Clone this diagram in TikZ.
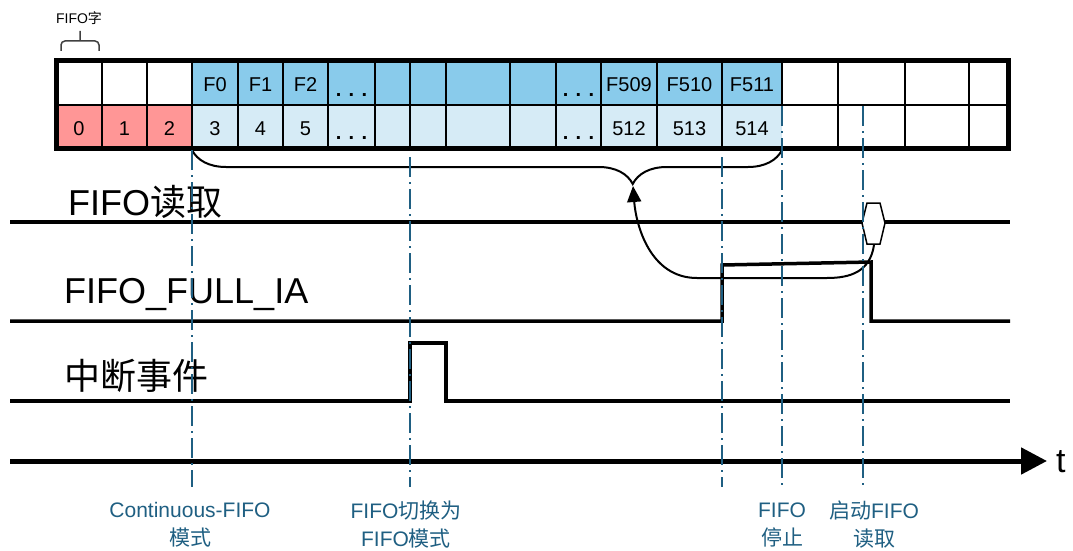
\documentclass[tikz,border=0pt]{standalone}
\usepackage{fontspec}
\setmainfont{Liberation Sans}
\newfontfamily\cjk{Noto Sans CJK SC}
\usetikzlibrary{decorations.pathreplacing,arrows.meta}

\definecolor{oLam}{RGB}{137,203,235}
\definecolor{oNhat}{RGB}{214,235,246}
\definecolor{oHong}{RGB}{255,150,150}
\definecolor{xanhMoc}{RGB}{31,95,130}

\tikzset{
	moc/.style={xanhMoc, line width=2.5pt, dash pattern=on 20pt off 5pt on 2pt off 5pt},
	tinhieu/.style={line width=3.5pt, line join=miter},
	chuO/.style={anchor=base, inner sep=0pt, font=\fontsize{20}{20}\selectfont},
	nhanTH/.style={anchor=base west, inner sep=0pt, font=\fontsize{36}{40}\selectfont},
	nhanMoc/.style={xanhMoc, align=center, inner sep=0pt, font=\fontsize{21}{28}\selectfont}
}

\begin{document}
\begin{tikzpicture}[x=1pt, y=-1pt, line cap=butt]
	\useasboundingbox (0,0) rectangle (1073,551);
	
	% --- Tô màu các ô FIFO ---
	% 0,1,2 - Hồng
	\fill[oHong] (56,105) rectangle (192,148);
	% F0 ... F511 - Xanh đậm
	\fill[oLam] (192,61) rectangle (782,105);
	% 3 ... 514 - Xanh nhạt
	\fill[oNhat] (192,105) rectangle (782,148);
	
	% --- Vẽ lưới ô ---
	\draw[line width=2pt] (56,105) -- (1008,105) (102,61) -- (102,148) (147,61) -- (147,148) (192,61) -- (192,148) (238,61) -- (238,148) (283,61) -- (283,148) (328,61) -- (328,148) (375,61) -- (375,148) (410,61) -- (410,148) (446,61) -- (446,148) (510,61) -- (510,148) (556,61) -- (556,148) (601,61) -- (601,148) (657,61) -- (657,148) (722,61) -- (722,148) (782,61) -- (782,105) (838,61) -- (838,148) (905,61) -- (905,148) (969,61) -- (969,148);
	\draw[line width=5pt] (56,61) rectangle (1008,148);
	
	% --- Chữ trong ô ---
	\node[chuO] (F0) at (215,92) {F0};
	\node[chuO] (F1) at (260.5,92) {F1};
	\node[chuO] (F2) at (305.5,92) {F2};
	\node[chuO] (chamT1) at (351.5,96) {\textbf{. . .}};
	\node[chuO] (chamT2) at (578.5,96) {\textbf{. . .}};
	\node[chuO] (F509) at (629,92) {F509};
	\node[chuO] (F510) at (689.5,92) {F510};
	\node[chuO] (F511) at (752,92) {F511};
	\node[chuO] (W0) at (79,135) {0};
	\node[chuO] (W1) at (124.5,135) {1};
	\node[chuO] (W2) at (169.5,135) {2};
	\node[chuO] (W3) at (215,135) {3};
	\node[chuO] (W4) at (260.5,135) {4};
	\node[chuO] (W5) at (305.5,135) {5};
	\node[chuO] (chamD1) at (351.5,139) {\textbf{. . .}};
	\node[chuO] (chamD2) at (578.5,139) {\textbf{. . .}};
	\node[chuO] (W512) at (629,135) {512};
	\node[chuO] (W513) at (689.5,135) {513};
	\node[chuO] (W514) at (752,135) {514};
	
	% --- Ngoặc "FIFO字" ---
	\node[inner sep=0pt, font=\fontsize{14}{14}\selectfont] (chuFIFO) at (79,18) {FIFO{\cjk 字}};
	\draw[black!75, line width=1.5pt, rounded corners=4pt] (61,51) -- (61,41) -- (99,41) -- (99,51) (80,41) -- (80,31);
	
	% --- Ngoặc lớn dưới các ô ---
	\coordinate (ngoacDinh) at (633,186);
	\draw[line width=2pt, decorate, decoration={brace, mirror, amplitude=34pt, aspect=0.747}] (192,150) -- (782,150);
	
	% --- Các tín hiệu ---
	\node[nhanTH] (lbDoc) at (68,215) {FIFO{\cjk 读取}};
	\node[nhanTH] (lbDay) at (64,303) {FIFO\_FULL\_IA};
	\node[nhanTH] (lbNgat) at (64,389) {\cjk 中断事件};
	
	\draw[tinhieu] (10,222) -- (862,222) (885,222) -- (1010,222);
	\draw[tinhieu] (10,321) -- (722,321) -- (722,265) -- (871,262) -- (871,321) -- (1010,321);
	\draw[tinhieu] (10,401) -- (410,401) -- (410,343) -- (446,343) -- (446,401) -- (1010,401);
	
	% Lục giác "khởi động đọc"
	\draw[line width=1.5pt, fill=white] (862,223) -- (867,203) -- (880,203) -- (885,223) -- (880,244) -- (867,244) -- cycle;
	\coordinate (hexDay) at (874,245);
	\draw[line width=2pt, -{Triangle[length=16pt,width=14pt]}] (hexDay) .. controls (870,272) and (850,278) .. (827,278) -- (697,278) .. controls (650,278) and (636,225) .. (ngoacDinh);
	
	% --- Trục thời gian ---
	\coordinate (t0) at (10,461);
	\coordinate (tCuoi) at (1047,461);
	\draw[line width=5pt, -{Triangle[length=26pt,width=26pt]}] (t0) -- (tCuoi);
	\node[anchor=base west, inner sep=0pt, font=\fontsize{34}{34}\selectfont] (nhanT) at (1056,472) {t};
	
	% --- Các mốc thời gian ---
	\draw[moc] (192,150) -- (192,487);
	\draw[moc] (410,157) -- (410,487);
	\draw[moc] (722,157) -- (722,487);
	\draw[moc] (782,106) -- (782,487);
	\draw[moc] (863,106) -- (863,487);
	
	\node[nhanMoc] (mocA) at (190,525) {Continuous-FIFO\\{\cjk 模式}};
	\node[nhanMoc] (mocB) at (406,525) {FIFO{\cjk 切换为}\\FIFO{\cjk 模式}};
	\node[nhanMoc] (mocC) at (782,525) {FIFO\\{\cjk 停止}};
	\node[nhanMoc] (mocD) at (874,525) {{\cjk 启动}FIFO\\{\cjk 读取}};
	
\end{tikzpicture}
\end{document}
